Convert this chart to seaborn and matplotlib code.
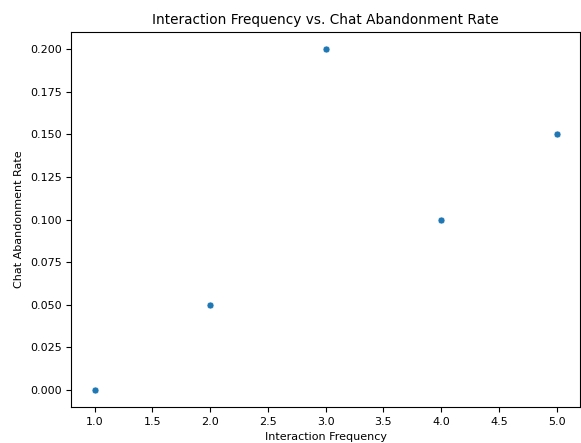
import matplotlib
matplotlib.use("Agg")
import matplotlib.pyplot as plt
import seaborn as sns
import pandas as pd

interaction_frequency = [1, 2, 3, 4, 5]
abandonment_rate = [0.0, 0.05, 0.20, 0.10, 0.15]
x_ticks = [1.0, 1.5, 2.0, 2.5, 3.0, 3.5, 4.0, 4.5, 5.0]
y_ticks = [0.0, 0.025, 0.05, 0.075, 0.1, 0.125, 0.15, 0.175, 0.2]

df = pd.DataFrame({"Interaction Frequency": interaction_frequency,
                   "Chat Abandonment Rate": abandonment_rate})

fig, ax = plt.subplots(figsize=(5.81, 4.43), dpi=100)
sns.scatterplot(data=df, x="Interaction Frequency", y="Chat Abandonment Rate", ax=ax, s=25)
ax.set_title("Interaction Frequency vs. Chat Abandonment Rate", fontsize=9.8)
ax.set_xlabel("Interaction Frequency", fontsize=8)
ax.set_ylabel("Chat Abandonment Rate", fontsize=8)
ax.tick_params(labelsize=8)
ax.set_xticks(x_ticks)
ax.set_xticklabels([f"{v:.1f}" for v in x_ticks])
ax.set_yticks(y_ticks)
ax.set_yticklabels([f"{v:.3f}" for v in y_ticks])
fig.subplots_adjust(left=0.123, right=0.998, top=0.928, bottom=0.081)
fig.savefig("out.png", dpi=100)
